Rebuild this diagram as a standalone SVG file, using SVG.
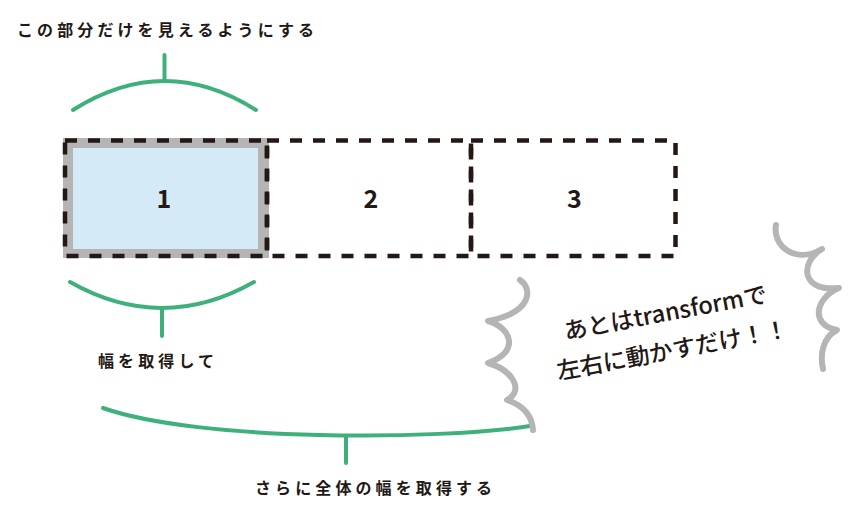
<svg xmlns="http://www.w3.org/2000/svg" width="860" height="518" viewBox="0 0 860 518">
  <style>
    .lbl { font-family: "Noto Sans CJK JP", "Noto Sans", sans-serif; font-size: 16px; font-weight: 700; fill: #231815; letter-spacing: 4.1px; }
    .num { font-family: "Noto Sans CJK JP", "Noto Sans", sans-serif; font-size: 25px; font-weight: 700; fill: #231815; text-anchor: middle; }
    .note { font-family: "Noto Sans CJK JP", "Noto Sans", sans-serif; font-size: 23.5px; font-weight: 500; fill: #231815; text-anchor: middle; }
    .dash { fill: none; stroke: #231815; stroke-width: 4.5; stroke-dasharray: 12 11; }
    .brace { fill: none; stroke: #3eb17b; stroke-width: 4; stroke-linecap: round; }
    .wave { fill: none; stroke: #b5b5b5; stroke-width: 6; stroke-linecap: round; stroke-linejoin: round; }
  </style>
  <rect width="860" height="518" fill="#ffffff"/>

  <g id="box1">
    <rect x="63" y="138" width="206" height="120" fill="#b5b5b5"/>
    <rect x="73" y="148" width="185" height="101" fill="#d4eaf7"/>
    <rect class="dash" x="65" y="140.5" width="202" height="115.5"/>
    <text class="num" x="164" y="208">1</text>
  </g>
  <g id="box2">
    <rect class="dash" x="267" y="140.5" width="204" height="115.5"/>
    <text class="num" x="371" y="208">2</text>
  </g>
  <g id="box3">
    <rect class="dash" x="471" y="140.5" width="204.5" height="115.5"/>
    <text class="num" x="574.5" y="208">3</text>
  </g>

  <g id="connectors">
    <path class="brace" d="M73,110 Q164.5,52 256,110"/>
    <path class="brace" d="M164.5,55 L164.5,81"/>
    <path class="brace" d="M70,282 Q162,334 254,282"/>
    <path class="brace" d="M162,308 L162,336"/>
    <path class="brace" d="M103,408 C200,442 440,440 530,426"/>
    <path class="brace" d="M346,436 L346,463"/>
  </g>

  <g id="waves">
    <path class="wave" d="M520,280 C532,288 534,312 488,321 C512,328 520,352 488,363 C512,370 525,390 507,400 C522,405 532,415 533,430"/>
    <path class="wave" d="M776,225 C772,245 795,265 822,249 C800,262 800,292 839,288 C815,298 810,325 837,330 C822,338 820,355 823,369"/>
  </g>

  <g id="label-top">
    <text class="lbl" x="17" y="36">この部分だけを見えるようにする</text>
  </g>
  <g id="label-width">
    <text class="lbl" x="98" y="367">幅を取得して</text>
  </g>
  <g id="label-total">
    <text class="lbl" x="255" y="494">さらに全体の幅を取得する</text>
  </g>
  <g id="note" transform="translate(667,321) rotate(-10.5)">
    <text class="note" x="0" y="0">あとはtransformで</text>
    <text class="note" x="0" y="38">左右に動かすだけ！！</text>
  </g>
</svg>
